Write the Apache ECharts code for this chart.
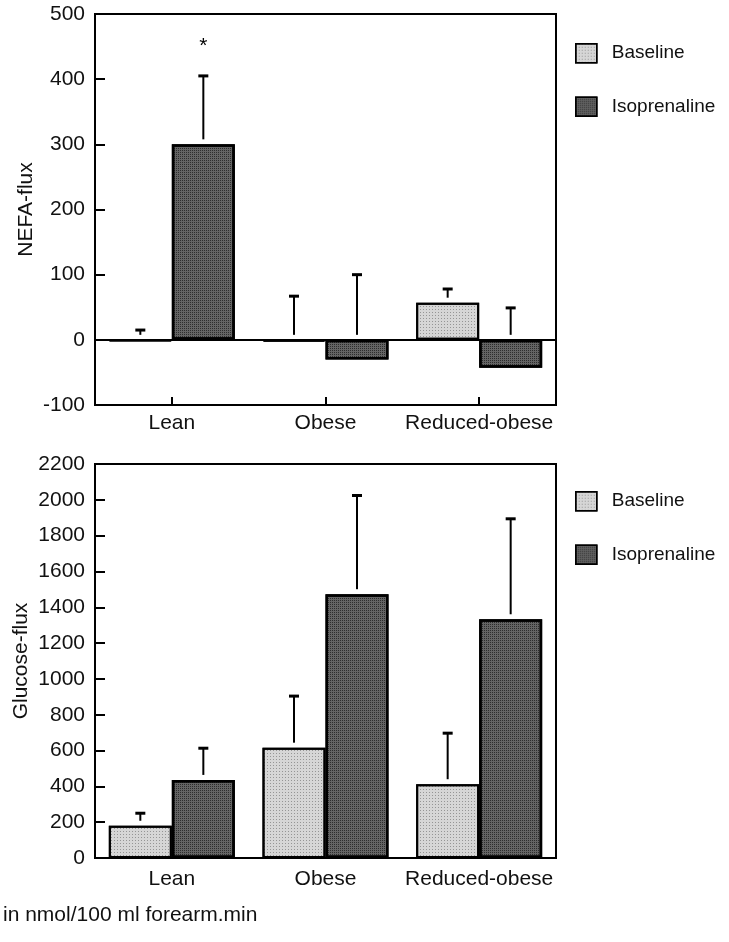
<!DOCTYPE html>
<html>
<head>
<meta charset="utf-8">
<style>
html,body{margin:0;padding:0;background:#fff;}
#chart{width:729px;height:942px;}
</style>
<script src="https://cdn.jsdelivr.net/npm/echarts@6/dist/echarts.min.js"></script>
</head>
<body>
<div id="chart"></div>
<script>
// ---- data ----
const categories = ['Lean', 'Obese', 'Reduced-obese'];
const seriesNames = ['Baseline', 'Isoprenaline'];

const nefaBaseline = [-2, -3, 57];
const nefaIso = [300, -30, -43];
const nefaBaselineErrTop = [15, 67, 78];
const nefaIsoErrTop = [405, 100, 49];
const nefaIsoMarks = ['*', '', ''];

const glucoseBaseline = [180, 616, 412];
const glucoseIso = [436, 1473, 1333];
const glucoseBaselineErrTop = [250, 904, 697];
const glucoseIsoErrTop = [613, 2024, 1894];

const nefaTicks = { min: -100, max: 500, interval: 100 };
const glucoseTicks = { min: 0, max: 2200, interval: 200 };
const footnote = 'in nmol/100 ml forearm.min';

// ---- styles ----
const FONT = '"Liberation Sans", Arial, Helvetica, sans-serif';
const baseStyle = {
  color: '#d6d6d6', borderColor: '#000', borderWidth: 2,
  decal: { symbol: 'rect', symbolSize: 1, color: 'rgba(0,0,0,0.30)', dashArrayX: [1, 2], dashArrayY: [1, 2] }
};
const isoStyle = {
  color: '#646464', borderColor: '#000', borderWidth: 2.5,
  decal: { symbol: 'rect', symbolSize: 1, color: 'rgba(0,0,0,0.55)', dashArrayX: [1, 1], dashArrayY: [1, 1] }
};
const halfOffset = 0.205; // bar centre offset as fraction of band

function errData(values, tops) {
  return values.map((v, i) => [i, v, tops[i]]);
}

function errSeries(name, xi, values, tops, side, marks) {
  return {
    type: 'custom',
    name: name + ' SE',
    xAxisIndex: xi, yAxisIndex: xi,
    silent: true,
    z: 5,
    data: errData(values, tops),
    renderItem: function (params, api) {
      const ci = api.value(0), v = api.value(1), top = api.value(2);
      const bw = api.size([1, 0])[0];
      const base = api.coord([ci, Math.max(v, 0)]);
      const t = api.coord([ci, top]);
      const x = base[0] + side * halfOffset * bw;
      const y0 = base[1] - 5;
      const children = [
        { type: 'line', shape: { x1: x, y1: y0, x2: x, y2: t[1] }, style: { stroke: '#000', lineWidth: 2 } },
        { type: 'line', shape: { x1: x - 5, y1: t[1], x2: x + 5, y2: t[1] }, style: { stroke: '#000', lineWidth: 3 } }
      ];
      const m = marks ? marks[params.dataIndex] : '';
      if (m) {
        children.push({ type: 'text', style: { text: m, x: x, y: t[1] - 40, align: 'center', verticalAlign: 'top', font: '21px ' + FONT, fill: '#000' } });
      }
      return { type: 'group', children: children };
    }
  };
}

function barSeries(name, xi, values, style, extra) {
  return Object.assign({
    type: 'bar',
    name: name,
    xAxisIndex: xi, yAxisIndex: xi,
    data: values,
    barGap: '0%',
    barCategoryGap: '18%',
    itemStyle: style,
    emphasis: { disabled: true }
  }, extra || {});
}

const yAxisCommon = {
  type: 'value',
  nameLocation: 'middle',
  nameRotate: 90,
  nameMoveOverlap: false,
  nameTextStyle: { fontFamily: FONT, fontSize: 21, color: '#111' },
  axisLine: { show: true, lineStyle: { color: '#000', width: 2 } },
  axisTick: { show: true, inside: true, length: 10, lineStyle: { color: '#000', width: 2 } },
  axisLabel: { fontFamily: FONT, fontSize: 21, color: '#111', margin: 10, formatter: function (v) { return String(v); } },
  splitLine: { show: false }
};

function legendAt(top) {
  return {
    data: seriesNames, orient: 'vertical', left: 575, top: top, padding: 0,
    itemWidth: 21, itemHeight: 19, itemGap: 33, icon: 'rect',
    itemStyle: { borderColor: '#000', borderWidth: 1.5 },
    textStyle: { fontFamily: FONT, fontSize: 19, color: '#111', padding: [0, 0, 0, 10] },
    selectedMode: false
  };
}

const option = {
  animation: false,
  backgroundColor: '#fff',
  grid: [
    { left: 95, top: 14, width: 461, height: 391, show: true, borderColor: '#000', borderWidth: 2, outerBoundsMode: 'none', containLabel: false },
    { left: 95, top: 464, width: 461, height: 394, show: true, borderColor: '#000', borderWidth: 2, outerBoundsMode: 'none', containLabel: false }
  ],
  legend: [legendAt(43), legendAt(491)],
  xAxis: [
    { type: 'category', gridIndex: 0, data: categories,
      axisLine: { onZero: false, lineStyle: { color: '#000', width: 2 } },
      axisTick: { show: true, inside: true, alignWithLabel: true, length: 8, lineStyle: { color: '#000', width: 2 } },
      axisLabel: { fontFamily: FONT, fontSize: 21, color: '#111', margin: 8, interval: 0 } },
    { type: 'category', gridIndex: 1, data: categories,
      axisLine: { onZero: false, lineStyle: { color: '#000', width: 2 } },
      axisTick: { show: false },
      axisLabel: { fontFamily: FONT, fontSize: 21, color: '#111', margin: 11, interval: 0 } }
  ],
  yAxis: [
    Object.assign({}, yAxisCommon, { gridIndex: 0, name: 'NEFA-flux', nameGap: 58,
      min: nefaTicks.min, max: nefaTicks.max, interval: nefaTicks.interval }),
    Object.assign({}, yAxisCommon, { gridIndex: 1, name: 'Glucose-flux', nameGap: 63,
      min: glucoseTicks.min, max: glucoseTicks.max, interval: glucoseTicks.interval })
  ],
  graphic: [
    { type: 'text', left: 3, top: 905, style: { text: footnote, font: '21px ' + FONT, fill: '#111' } }
  ],
  series: [
    barSeries('Baseline', 0, nefaBaseline, baseStyle, {
      markLine: { silent: true, symbol: 'none', label: { show: false },
        lineStyle: { color: '#000', width: 2, type: 'solid' }, data: [{ yAxis: 0 }] }
    }),
    barSeries('Isoprenaline', 0, nefaIso, isoStyle),
    errSeries('Baseline', 0, nefaBaseline, nefaBaselineErrTop, -1, null),
    errSeries('Isoprenaline', 0, nefaIso, nefaIsoErrTop, 1, nefaIsoMarks),
    barSeries('Baseline', 1, glucoseBaseline, baseStyle),
    barSeries('Isoprenaline', 1, glucoseIso, isoStyle),
    errSeries('Baseline', 1, glucoseBaseline, glucoseBaselineErrTop, -1, null),
    errSeries('Isoprenaline', 1, glucoseIso, glucoseIsoErrTop, 1, null)
  ]
};

const chart = echarts.init(document.getElementById('chart'), null, { renderer: 'canvas' });
chart.setOption(option);
</script>
</body>
</html>
